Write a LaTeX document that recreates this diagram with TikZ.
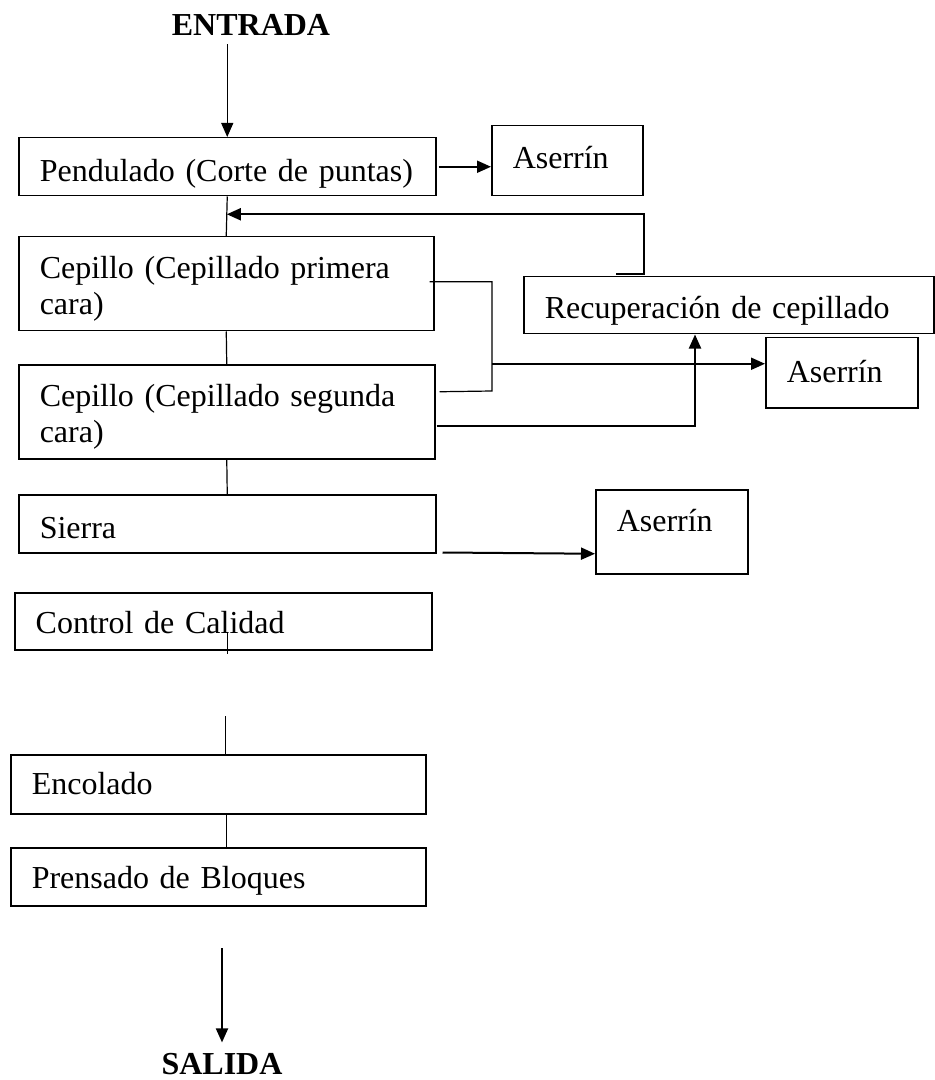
\documentclass[tikz,border=0pt]{standalone}
\usepackage{fontspec}
\setmainfont{Liberation Serif}
\usetikzlibrary{arrows.meta,calc}
\begin{document}
\begin{tikzpicture}[x=0.5pt,y=-0.5pt,
  every node/.style={font=\fontsize{16}{18}\selectfont},
  box/.style={draw, line width=0.75pt, anchor=north west, inner xsep=10.5pt, inner ysep=0pt, align=left},
  lbl/.style={inner sep=0pt, anchor=base, font=\fontsize{16}{18}\selectfont\bfseries},
  conn/.style={line width=0.6pt},
  arr/.style={line width=0.6pt, -{Triangle[length=7pt,width=6pt]}},
  thickarr/.style={line width=1pt, -{Triangle[length=7pt,width=6pt]}}]
\useasboundingbox (0,0) rectangle (935,1080);
\node[lbl] at (251,36) (entrada) {ENTRADA};
\node[box, text width=187.5pt, text height=22pt, text depth=7pt] at (18,137) (pend) {Pendulado (Corte de puntas)};
\node[box, text width=54.5pt, text height=21.5pt, text depth=13.5pt] at (491,125) (aser1) {Aserrín};
\node[box, text width=186.5pt, text height=21pt, text depth=26pt] at (18,236) (cep1) {Cepillo (Cepillado primera\\cara)};
\node[box, text width=187pt, text height=21pt, text depth=26pt] at (18,364) (cep2) {Cepillo (Cepillado segunda\\cara)};
\node[box, text width=184pt, text height=21pt, text depth=7.5pt] at (523,276) (recup) {Recuperación de cepillado};
\node[box, text width=55pt, text height=22.5pt, text depth=12.5pt] at (765,337) (aser2) {Aserrín};
\node[box, text width=187.5pt, text height=22pt, text depth=7pt] at (18,494) (sierra) {Sierra};
\node[box, text width=55pt, text height=21pt, text depth=21pt] at (595,489) (aser3) {Aserrín};
\node[box, text width=187.5pt, text height=20.5pt, text depth=8pt] at (14,592) (control) {Control de Calidad};
\node[box, text width=186.5pt, text height=20pt, text depth=9.5pt] at (10,754) (encol) {Encolado};
\node[box, text width=186.5pt, text height=20.5pt, text depth=8.5pt] at (10,847) (prens) {Prensado de Bloques};
\node[lbl] at (222,1074) (salida) {SALIDA};
\coordinate (brk) at (492,391);
\coordinate (a2in) at ($(aser2.west)+(0,-9)$);
\draw[arr] ($(entrada.south -| pend.north)+(0,8)$) -- (pend.north);
\draw[thickarr] ($(pend.east)+(2,0)$) -- (pend.east -| aser1.west);
\draw[conn] (pend.south) -- (cep1.north);
\draw[thickarr] ($(recup.north west)+(93,-2)$) -- ++(28,0) |- ($(pend.south)!0.45!(cep1.north)$);
\draw[conn] (cep1.south) -- (cep2.north);
\draw[conn] ($(cep1.east)+(-5,-2)$) -| (brk) -- ($(cep2.east)+(4,-20)$);
\draw[thickarr] (brk |- a2in) -- (a2in);
\draw[thickarr] ($(cep2.east)+(1,14)$) -| ($(recup.south west)+(172,0)$);
\draw[conn] (cep2.south) -- (sierra.north);
\draw[thickarr] ($(sierra.south east)+(6,-1)$) -- ($(aser3.west)+(0,22)$);
\draw[conn] ($(control.south)+(4,-19)$) -- ($(control.south)+(4,3)$);
\draw[conn] ($(encol.north)+(7,-38)$) -- ($(encol.north)+(7,0)$);
\draw[conn] ($(encol.south)+(8,0)$) -- ($(prens.north)+(8,0)$);
\draw[thickarr, shorten >=5pt] ($(salida.north)+(0,-104)$) -- (salida.north);
\end{tikzpicture}
\end{document}
